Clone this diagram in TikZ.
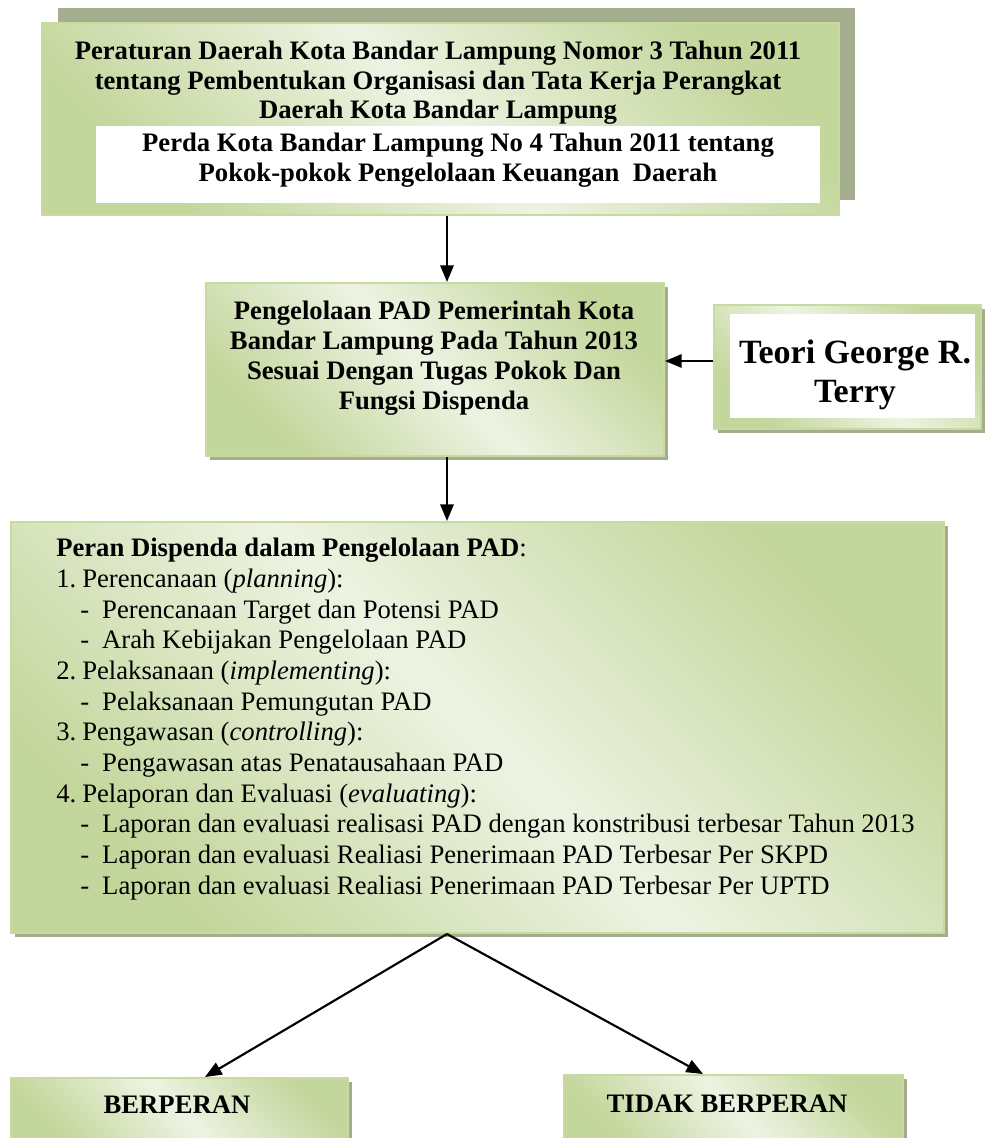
\documentclass[tikz,border=0pt]{standalone}
\usepackage{fontspec}
\setmainfont{Liberation Serif}
\usetikzlibrary{arrows.meta,shadows}
\definecolor{gD}{RGB}{195,214,155}
\definecolor{gL}{RGB}{237,243,226}
\definecolor{gB}{RGB}{200,218,160}
\definecolor{shc}{RGB}{164,174,142}
\newcommand{\myNum}[2]{\makebox[19.5pt][l]{#1}#2}
\newcommand{\myDash}[1]{\hspace*{18pt}\makebox[16.5pt][l]{-}#1}
\begin{document}
\begin{tikzpicture}[x=0.75pt,y=-0.75pt,
  gbox/.style={anchor=north west, inner sep=0pt, draw=gB, line width=1.5pt,
    left color=gD, right color=gD, middle color=gL, shading angle=135},
  shad/.style={general shadow={shadow xshift=3pt, shadow yshift=-3pt, fill=shc}},
  wbox/.style={anchor=north west, inner sep=0pt, fill=white},
  txt/.style={inner sep=0pt, anchor=north, align=center, font=\bfseries\fontsize{20}{22}\selectfont},
  arr/.style={line width=1.6pt, -{Triangle[length=12.5pt,width=10pt]}}
]
\useasboundingbox (0,0) rectangle (985,1138);
\clip (0,0) rectangle (985,1138);
% boxes
\node[gbox, general shadow={shadow xshift=12pt, shadow yshift=11.25pt, fill=shc},
  minimum width=597.75pt, minimum height=144pt] (top) at (41,22) {};
\node[wbox, minimum width=543pt, minimum height=57.75pt] (topwhite) at (96,126) {};
\node[gbox, shad, minimum width=343.5pt, minimum height=129.75pt] (mid) at (205,282) {};
\node[gbox, shad, minimum width=200.25pt, minimum height=93pt] (teori) at (713,304) {};
\node[wbox, minimum width=183.75pt, minimum height=78pt] (teoriwhite) at (730,314) {};
\node[gbox, shad, minimum width=699.75pt, minimum height=308.25pt] (peran) at (10,521) {};
\node[gbox, shad, minimum width=252.75pt, minimum height=52.5pt] (berp) at (10,1077) {};
\node[gbox, shad, minimum width=254.25pt, minimum height=52.5pt] (tidak) at (563,1074) {};
% texts
\node[txt] (toptxt) at (438,41) {Peraturan Daerah Kota Bandar Lampung Nomor 3 Tahun 2011\\tentang Pembentukan Organisasi dan Tata Kerja Perangkat\\Daerah Kota Bandar Lampung};
\node[txt] (perdatxt) at (458,133) {Perda Kota Bandar Lampung No 4 Tahun 2011 tentang\\Pokok-pokok Pengelolaan Keuangan\ \ Daerah};
\node[txt, font=\bfseries\fontsize{20}{22.5}\selectfont] (midtxt) at (434,301) {Pengelolaan PAD Pemerintah Kota\\Bandar Lampung Pada Tahun 2013\\Sesuai Dengan Tugas Pokok Dan\\Fungsi Dispenda};
\node[txt, font=\bfseries\fontsize{25.5}{29}\selectfont] (teoritxt) at (855,340) {Teori George R.\\Terry};
\node[inner sep=0pt, anchor=north west, align=left, font=\fontsize{20}{23}\selectfont] (perantxt) at (56,538) {%
\textbf{Peran Dispenda dalam Pengelolaan PAD}:\\
\myNum{1.}{Perencanaan (\textit{planning}):}\\
\myDash{Perencanaan Target dan Potensi PAD}\\
\myDash{Arah Kebijakan Pengelolaan PAD}\\
\myNum{2.}{Pelaksanaan (\textit{implementing}):}\\
\myDash{Pelaksanaan Pemungutan PAD}\\
\myNum{3.}{Pengawasan (\textit{controlling}):}\\
\myDash{Pengawasan atas Penatausahaan PAD}\\
\myNum{4.}{Pelaporan dan Evaluasi (\textit{evaluating}):}\\
\myDash{Laporan dan evaluasi realisasi PAD dengan konstribusi terbesar Tahun 2013}\\
\myDash{Laporan dan evaluasi Realiasi Penerimaan PAD Terbesar Per SKPD}\\
\myDash{Laporan dan evaluasi Realiasi Penerimaan PAD Terbesar Per UPTD}};
\node[txt, anchor=base] (berptxt) at (177,1113) {BERPERAN};
\node[txt, anchor=base] (tidaktxt) at (727,1112) {TIDAK BERPERAN};
% connectors
\coordinate (ax) at (447,0);
\coordinate (ay) at (0,361);
\coordinate (bl) at (205,0);
\coordinate (br) at (703,0);
\draw[arr] (top.south -| ax) -- (mid.north -| ax);
\draw[arr] (teori.west |- ay) -- (mid.east |- ay);
\draw[arr] (mid.south -| ax) -- (peran.north -| ax);
\draw[arr] (peran.south -| ax) -- (berp.north -| bl);
\draw[arr] (peran.south -| ax) -- (tidak.north -| br);
\end{tikzpicture}
\end{document}
